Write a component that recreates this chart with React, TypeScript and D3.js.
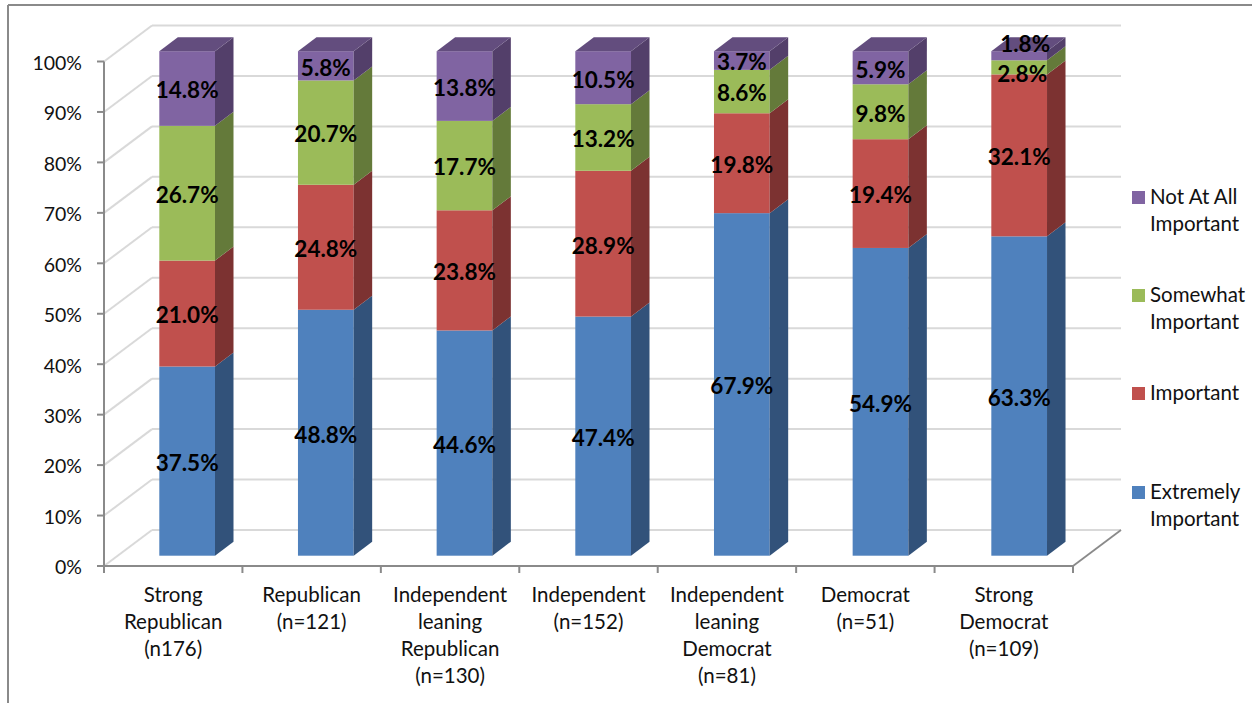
import React from "react";
import * as d3 from "d3";

const categories = [
  ["Strong", "Republican", "(n176)"],
  ["Republican", "(n=121)"],
  ["Independent", "leaning", "Republican", "(n=130)"],
  ["Independent", "(n=152)"],
  ["Independent", "leaning", "Democrat", "(n=81)"],
  ["Democrat", "(n=51)"],
  ["Strong", "Democrat", "(n=109)"],
];
const seriesNames = ["Extremely Important", "Important", "Somewhat Important", "Not At All Important"];
const extremely = [37.5, 48.8, 44.6, 47.4, 67.9, 54.9, 63.3];
const important = [21.0, 24.8, 23.8, 28.9, 19.8, 19.4, 32.1];
const somewhat = [26.7, 20.7, 17.7, 13.2, 8.6, 9.8, 2.8];
const notAtAll = [14.8, 5.8, 13.8, 10.5, 3.7, 5.9, 1.8];
const tickValues = [0, 10, 20, 30, 40, 50, 60, 70, 80, 90, 100];

const frontColors = ["#4f81bd", "#c0504d", "#9bbb59", "#8064a2"];
const sideColors = ["#32527a", "#7c3231", "#647a3a", "#533f6a"];
const topColor = "#634d7e";
const legendLines = [["Extremely", "Important"], ["Important"], ["Somewhat", "Important"], ["Not At All", "Important"]];
const legendTops = [486, 387, 289, 191];
const FONT = "Lato, 'Open Sans', sans-serif";

export default function App() {
  const x = d3.scaleLinear().domain([0, 7]).range([104, 1073]);
  const y = d3.scaleLinear().domain([0, 100]).range([566, 61.5]);
  const wall = { dx: 48, dy: 36 };
  const depth = { dx: 18.5, dy: 14 };
  const barW = 55.7;
  const barLeft = (i: number) => 159.3 + i * 138.67;
  const barLift = 10.3;

  const rows = categories.map((_, i) => ({ a: extremely[i], b: important[i], c: somewhat[i], d: notAtAll[i] }));
  const stack = d3.stack<any>().keys(["a", "b", "c", "d"]).offset(d3.stackOffsetExpand)(rows);
  const yFrac = (v: number) => y(v * 100) - barLift;
  const values = [extremely, important, somewhat, notAtAll];
  const poly = (p: number[][]) => p.map((q) => q.join(",")).join(" ");
  const nudge = (s: number, i: number) =>
    i === 6 && s === 3 ? [6, -12] : i === 6 && s === 2 ? [3, 7] : [0, 2];

  return (
    <svg width={1252} height={703} style={{ position: "absolute", left: 0, top: 0, background: "#fff" }} fontFamily={FONT}>
      <line x1={8} y1={5} x2={1252} y2={5} stroke="#8a8a8a" strokeWidth={2} />
      <line x1={8} y1={5} x2={8} y2={703} stroke="#8a8a8a" strokeWidth={2} />

      {tickValues.map((t) => (
        <g key={t} stroke="#d9d9d9" strokeWidth={2} fill="none">
          <line x1={x(0)} y1={y(t)} x2={x(0) + wall.dx} y2={y(t) - wall.dy} />
          <line x1={x(0) + wall.dx} y1={y(t) - wall.dy} x2={x(7) + wall.dx} y2={y(t) - wall.dy} />
        </g>
      ))}
      <line x1={x(7)} y1={y(0)} x2={x(7) + wall.dx} y2={y(0) - wall.dy} stroke="#8a8a8a" strokeWidth={1.8} />

      {stack.map((s, si) => (
        <g key={si}>
          {s.map((d, i) => {
            const l = barLeft(i), r = l + barW;
            const y0 = yFrac(d[0]), y1 = yFrac(d[1]);
            return (
              <g key={i}>
                <rect x={l} y={y1} width={barW} height={y0 - y1} fill={frontColors[si]} />
                <polygon
                  fill={sideColors[si]}
                  points={poly([[r, y1], [r + depth.dx, y1 - depth.dy], [r + depth.dx, y0 - depth.dy], [r, y0]])}
                />
                {si === 3 && (
                  <polygon
                    fill={topColor}
                    points={poly([[l, y1], [l + depth.dx, y1 - depth.dy], [r + depth.dx, y1 - depth.dy], [r, y1]])}
                  />
                )}
              </g>
            );
          })}
        </g>
      ))}

      {stack.map((s, si) =>
        s.map((d, i) => {
          const [nx, ny] = nudge(si, i);
          return (
            <text
              key={`${si}-${i}`}
              x={barLeft(i) + barW / 2 + nx}
              y={(yFrac(d[0]) + yFrac(d[1])) / 2 + ny}
              dy="0.35em"
              textAnchor="middle"
              fontSize={22.5}
              fontWeight={700}
              fill="#000"
            >
              {values[si][i].toFixed(1)}%
            </text>
          );
        })
      )}

      <line x1={x(0)} y1={y(100)} x2={x(0)} y2={y(0) + 7} stroke="#8a8a8a" strokeWidth={2} />
      <line x1={x(0)} y1={y(0)} x2={x(7)} y2={y(0)} stroke="#8a8a8a" strokeWidth={2} />
      {tickValues.map((t) => (
        <g key={t}>
          <line x1={x(0) - 7} y1={y(t)} x2={x(0)} y2={y(t)} stroke="#8a8a8a" strokeWidth={2} />
          <text x={82} y={y(t) + 1.5} dy="0.35em" textAnchor="end" fontSize={19.5} fill="#111">
            {t}%
          </text>
        </g>
      ))}
      {d3.range(8).map((i) => (
        <line key={i} x1={x(i)} y1={y(0)} x2={x(i)} y2={y(0) + 7} stroke="#8a8a8a" strokeWidth={2} />
      ))}
      {categories.map((lines, i) => (
        <text key={i} textAnchor="middle" fontSize={20.5} fill="#111">
          {lines.map((ln, k) => (
            <tspan key={k} x={x(i + 0.5)} y={602 + k * 27}>
              {ln}
            </tspan>
          ))}
        </text>
      ))}

      {seriesNames.map((name, si) => (
        <g key={name}>
          <rect x={1132} y={legendTops[si]} width={13} height={13} fill={frontColors[si]} />
          <text fontSize={20.5} fill="#111">
            {legendLines[si].map((ln, k) => (
              <tspan key={k} x={1150} y={legendTops[si] + 13 + k * 27}>
                {ln}
              </tspan>
            ))}
          </text>
        </g>
      ))}
    </svg>
  );
}
